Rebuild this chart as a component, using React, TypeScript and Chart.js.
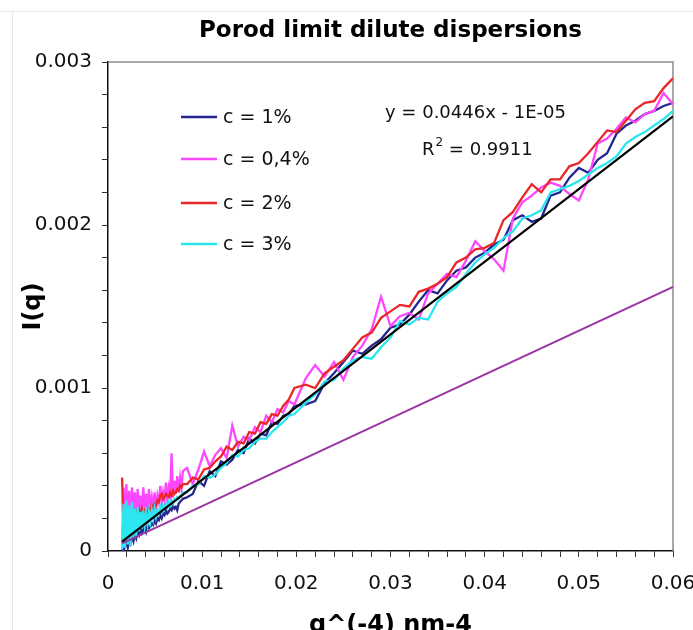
import React, { useEffect, useRef } from "react";
import { Chart, registerables } from "chart.js";

Chart.register(...registerables);

const TITLE = "Porod limit dilute dispersions";
const X_TITLE = "q^(-4) nm-4";
const Y_TITLE = "I(q)";
const SERIES_LABELS = ["c = 1%", "c = 0,4%", "c = 2%", "c = 3%"];
const SERIES_COLORS = ["#25258f", "#ff46ff", "#ea2626", "#2be6ee"];
const FIT_COLOR = "#000000";
const MODEL_COLOR = "#9b35a3";
const EQUATION = "y = 0.0446x - 1E-05";
const R2_VALUE = "0.9911";

const X_VALUES = [
  0.0015, 0.00165, 0.0018, 0.00195, 0.0021, 0.00225, 0.0024, 0.00255, 0.0027, 0.00285, 0.003,
  0.00315, 0.0033, 0.00345, 0.0036, 0.00375, 0.0039, 0.00405, 0.0042, 0.00435, 0.0045, 0.00465,
  0.0048, 0.00495, 0.0051, 0.00525, 0.0054, 0.00555, 0.0057, 0.00585, 0.006, 0.00615, 0.0063,
  0.00645, 0.0066, 0.00675, 0.0069, 0.00705, 0.0072, 0.00735, 0.0075, 0.00765, 0.0078, 0.00795,
  0.0084, 0.009, 0.0096, 0.0102, 0.0108, 0.0114, 0.012, 0.0126, 0.0132, 0.0138,
  0.0144, 0.015, 0.0156, 0.0162, 0.0168, 0.0174, 0.018, 0.0186, 0.0192, 0.0198,
  0.021, 0.022, 0.023, 0.024, 0.025, 0.026, 0.027, 0.028, 0.029, 0.03,
  0.031, 0.032, 0.033, 0.034, 0.035, 0.036, 0.037, 0.038, 0.039, 0.04,
  0.041, 0.042, 0.043, 0.044, 0.045, 0.046, 0.047, 0.048, 0.049, 0.05,
  0.051, 0.052, 0.053, 0.054, 0.055, 0.056, 0.057, 0.058, 0.059, 0.06,
];

// c = 1%
const C_1 = [
  0.00002, 0, 0.00003, 0.00006, 0.00002, 0.00008, 0.00005, 0.00009, 0.00006, 0.00011, 0.00008,
  0.00012, 0.0001, 0.00014, 0.00011, 0.00013, 0.00015, 0.00012, 0.00016, 0.00014, 0.00015, 0.00017,
  0.00016, 0.00019, 0.00017, 0.0002, 0.00019, 0.00022, 0.0002, 0.00023, 0.00022, 0.00025, 0.00023,
  0.00024, 0.00026, 0.00025, 0.00028, 0.00026, 0.00027, 0.00025, 0.00029, 0.0003, 0.00031, 0.00032,
  0.00033, 0.00035, 0.00043, 0.0004, 0.00049, 0.00046, 0.00055, 0.00053, 0.00056, 0.00062,
  0.0006, 0.00069, 0.00066, 0.00072, 0.00071, 0.00079, 0.00078, 0.00083, 0.00084, 0.00089,
  0.0009, 0.00092, 0.00103, 0.00109, 0.00116, 0.00123, 0.00121, 0.00126, 0.0013, 0.00137,
  0.00139, 0.00145, 0.00153, 0.0016, 0.00158, 0.00166, 0.00172, 0.00174, 0.0018, 0.00183,
  0.00188, 0.00191, 0.00203, 0.00206, 0.00202, 0.00204, 0.00218, 0.0022, 0.00229, 0.00235,
  0.00232, 0.0024, 0.00244, 0.00256, 0.00261, 0.00264, 0.00268, 0.0027, 0.00273, 0.00275,
];

// c = 0,4%
const C_04 = [
  0.00001, 0.00039, 0.00018, 0.00041, 0.0002, 0.00037, 0.00019, 0.00039, 0.00023, 0.00036, 0.00022,
  0.00038, 0.00025, 0.00034, 0.00024, 0.00039, 0.00026, 0.00035, 0.00025, 0.00038, 0.00027, 0.00033,
  0.00026, 0.00036, 0.00025, 0.00034, 0.0003, 0.0004, 0.00029, 0.00036, 0.00031, 0.00042, 0.00032,
  0.00039, 0.00034, 0.0006, 0.00033, 0.00043, 0.00035, 0.00046, 0.00036, 0.00045, 0.00038, 0.00049,
  0.00051, 0.00041, 0.0005, 0.00061, 0.00052, 0.00059, 0.00063, 0.00057, 0.00077, 0.00064,
  0.0007, 0.00068, 0.00076, 0.00073, 0.00083, 0.00079, 0.00087, 0.00085, 0.00092, 0.0009,
  0.00106, 0.00114, 0.00107, 0.00116, 0.00105, 0.00119, 0.00126, 0.00136, 0.00156, 0.00138,
  0.00144, 0.00146, 0.00142, 0.00158, 0.00164, 0.0017, 0.00168, 0.00178, 0.0019, 0.00184,
  0.00179, 0.00172, 0.00204, 0.00214, 0.00218, 0.00223, 0.00226, 0.00224, 0.00219, 0.00215,
  0.00228, 0.0025, 0.00253, 0.00259, 0.00266, 0.00263, 0.00268, 0.0027, 0.00281, 0.00274,
];

// c = 2%
const C_2 = [
  0.00045, 0.00009, 0.00013, 0.00021, 0.00012, 0.00019, 0.00016, 0.00022, 0.00018, 0.0002, 0.00024,
  0.00021, 0.00025, 0.00022, 0.00026, 0.00023, 0.00025, 0.00024, 0.00023, 0.00026, 0.00025, 0.00028,
  0.00026, 0.00029, 0.00028, 0.00031, 0.0003, 0.00034, 0.00035, 0.00032, 0.00033, 0.00035, 0.00034,
  0.00033, 0.00036, 0.00034, 0.00037, 0.00035, 0.00036, 0.00038, 0.00037, 0.0004, 0.00039, 0.00041,
  0.00041, 0.00045, 0.00044, 0.0005, 0.00051, 0.00055, 0.00058, 0.00064, 0.00062, 0.00067,
  0.00066, 0.00073, 0.00072, 0.00079, 0.00078, 0.00084, 0.00083, 0.00089, 0.00093, 0.001,
  0.00102, 0.001, 0.00109, 0.00113, 0.00117, 0.00124, 0.00131, 0.00134, 0.00143, 0.00147,
  0.00151, 0.0015, 0.00159, 0.00161, 0.00164, 0.00168, 0.00177, 0.0018, 0.00185, 0.00186,
  0.00189, 0.00203, 0.00208, 0.00217, 0.00225, 0.0022, 0.00228, 0.00228, 0.00236, 0.00238,
  0.00244, 0.00251, 0.00258, 0.00257, 0.00264, 0.00271, 0.00275, 0.00276, 0.00284, 0.0029,
];

// c = 3%
const C_3 = [
  0.00001, 0.00029, 0.00002, 0.00031, 0.00004, 0.00028, 0.00003, 0.0003, 0.00008, 0.00026, 0.00009,
  0.00027, 0.00012, 0.00024, 0.00014, 0.00025, 0.00016, 0.00023, 0.00017, 0.00024, 0.00018, 0.00025,
  0.0002, 0.00026, 0.00021, 0.00025, 0.00023, 0.00027, 0.00024, 0.00028, 0.00026, 0.00029, 0.00027,
  0.0003, 0.00028, 0.00031, 0.00029, 0.00032, 0.00031, 0.00033, 0.00032, 0.00034, 0.00034, 0.00036,
  0.00036, 0.0004, 0.00041, 0.00046, 0.00045, 0.00047, 0.00051, 0.00054, 0.00059, 0.00058,
  0.00062, 0.00063, 0.00067, 0.00069, 0.00069, 0.00073, 0.00076, 0.00079, 0.00083, 0.00084,
  0.00091, 0.00096, 0.00104, 0.00105, 0.00112, 0.00117, 0.00119, 0.00118, 0.00125, 0.00131,
  0.00141, 0.00139, 0.00143, 0.00142, 0.00153, 0.00158, 0.00162, 0.0017, 0.00177, 0.00182,
  0.00186, 0.00192, 0.00196, 0.00204, 0.00206, 0.00209, 0.0022, 0.00222, 0.00224, 0.00227,
  0.00231, 0.00235, 0.00238, 0.00242, 0.0025, 0.00254, 0.00257, 0.00261, 0.00265, 0.0027,
];

const SERIES_VALUES = [C_1, C_04, C_2, C_3];

// linear trend line (y = 0.0446x - 1E-05) end points
const FIT_X = [0.0015, 0.06];
const FIT_Y = [0.0000569, 0.002666];
// lower straight line end points
const MODEL_X = [0.0015, 0.06];
const MODEL_Y = [0.000047, 0.00162];

const X_MIN = 0;
const X_MAX = 0.06;
const X_STEP = 0.002;
const X_LABEL_STEP = 0.01;
const Y_MIN = 0;
const Y_MAX = 0.003;
const Y_STEP = 0.0002;
const Y_LABEL_STEP = 0.001;

const FONT = "DejaVu Sans";

function isMultiple(v: number, step: number) {
  const r = v / step;
  return Math.abs(r - Math.round(r)) < 1e-6;
}

function fmt(v: number, digits: number) {
  return String(+v.toFixed(digits));
}

const overlayPlugin = {
  id: "overlay",
  beforeDraw(chart: any) {
    const ctx = chart.ctx;
    ctx.save();
    ctx.strokeStyle = "#e8e8e8";
    ctx.lineWidth = 1;
    ctx.beginPath();
    ctx.moveTo(0, 11.5);
    ctx.lineTo(chart.width, 11.5);
    ctx.moveTo(12.5, 11.5);
    ctx.lineTo(12.5, chart.height);
    ctx.stroke();
    ctx.restore();
  },
  beforeDatasetsDraw(chart: any) {
    const { ctx, chartArea } = chart;
    ctx.save();
    ctx.strokeStyle = "#8c8c8c";
    ctx.lineWidth = 1.5;
    ctx.beginPath();
    ctx.moveTo(chartArea.left, chartArea.top);
    ctx.lineTo(chartArea.right, chartArea.top);
    ctx.lineTo(chartArea.right, chartArea.bottom);
    ctx.stroke();
    ctx.restore();
  },
  afterDraw(chart: any) {
    const ctx = chart.ctx;
    ctx.save();
    // legend
    const rows = [117, 159, 203, 244];
    ctx.font = `19px "${FONT}"`;
    ctx.textAlign = "left";
    ctx.textBaseline = "middle";
    for (let i = 0; i < SERIES_LABELS.length; i++) {
      const ds = chart.data.datasets[i];
      ctx.strokeStyle = ds.borderColor;
      ctx.lineWidth = 2.5;
      ctx.beginPath();
      ctx.moveTo(181, rows[i]);
      ctx.lineTo(217, rows[i]);
      ctx.stroke();
      ctx.fillStyle = "#111";
      ctx.fillText(ds.label, 223, rows[i] + 1);
    }
    // trend line equation
    ctx.fillStyle = "#111";
    ctx.font = `18px "${FONT}"`;
    ctx.fillText(EQUATION, 385, 113);
    const rx = 422;
    ctx.fillText("R", rx, 150);
    const wR = ctx.measureText("R").width;
    ctx.font = `12px "${FONT}"`;
    ctx.fillText("2", rx + wR + 1, 143);
    const w2 = ctx.measureText("2").width;
    ctx.font = `18px "${FONT}"`;
    ctx.fillText(" = " + R2_VALUE, rx + wR + 1 + w2, 150);
    ctx.restore();
  },
};

export default function App() {
  const ref = useRef<HTMLCanvasElement | null>(null);

  useEffect(() => {
    document.body.style.margin = "0";
    document.body.style.overflow = "hidden";
    document.documentElement.style.overflow = "hidden";
    const canvas = ref.current;
    if (!canvas) return;

    const seriesSets = SERIES_VALUES.map((vals, i) => ({
      label: SERIES_LABELS[i],
      data: X_VALUES.map((x, j) => ({ x, y: vals[j] })),
      borderColor: SERIES_COLORS[i],
      borderWidth: 2.3,
      pointRadius: 0,
      tension: 0,
      fill: false,
      order: 5 - i,
    }));

    const chart = new Chart(canvas, {
      type: "line",
      data: {
        datasets: [
          ...seriesSets,
          {
            label: "fit",
            data: FIT_X.map((x, j) => ({ x, y: FIT_Y[j] })),
            borderColor: FIT_COLOR,
            borderWidth: 2.2,
            pointRadius: 0,
            order: 0,
          },
          {
            label: "model",
            data: MODEL_X.map((x, j) => ({ x, y: MODEL_Y[j] })),
            borderColor: MODEL_COLOR,
            borderWidth: 2,
            pointRadius: 0,
            order: 1,
          },
        ] as any,
      },
      options: {
        animation: false,
        responsive: false,
        maintainAspectRatio: false,
        layout: { padding: { left: 0, right: 47, top: 0, bottom: 0 } },
        plugins: {
          legend: { display: false },
          tooltip: { enabled: false },
          title: {
            display: true,
            text: TITLE,
            fullSize: false,
            color: "#000",
            font: { family: FONT, size: 23, weight: "bold" },
            padding: { top: 17, bottom: 17.4 },
          },
        },
        scales: {
          x: {
            type: "linear",
            min: X_MIN,
            max: X_MAX,
            afterFit: (scale: any) => {
              scale.height = 109;
            },
            ticks: {
              stepSize: X_STEP,
              autoSkip: false,
              maxRotation: 0,
              minRotation: 0,
              padding: 15,
              color: "#111",
              font: { family: FONT, size: 20 },
              callback: (v: any) => (isMultiple(Number(v), X_LABEL_STEP) ? fmt(Number(v), 2) : ""),
            },
            grid: {
              drawOnChartArea: false,
              drawTicks: true,
              tickLength: 6,
              color: "#333",
            },
            border: { display: true, color: "#111", width: 1.5 },
            title: {
              display: true,
              text: X_TITLE,
              color: "#000",
              font: { family: FONT, size: 24, weight: "bold" },
              padding: { top: 0, bottom: 20 },
            },
          },
          y: {
            type: "linear",
            min: Y_MIN,
            max: Y_MAX,
            afterFit: (scale: any) => {
              scale.width = 108;
            },
            ticks: {
              stepSize: Y_STEP,
              autoSkip: false,
              padding: 10,
              color: "#111",
              font: { family: FONT, size: 20 },
              callback: (v: any) => (isMultiple(Number(v), Y_LABEL_STEP) ? fmt(Number(v), 3) : ""),
            },
            grid: {
              drawOnChartArea: false,
              drawTicks: true,
              tickLength: 6,
              color: "#333",
            },
            border: { display: true, color: "#111", width: 1.5 },
            title: {
              display: true,
              text: Y_TITLE,
              color: "#000",
              font: { family: FONT, size: 24, weight: "bold" },
              padding: { top: 19, bottom: 0 },
            },
          },
        },
      },
      plugins: [overlayPlugin],
    });

    return () => chart.destroy();
  }, []);

  return (
    <div style={{ width: 720, height: 660, position: "relative" }}>
      <canvas ref={ref} width={720} height={660} style={{ width: 720, height: 660, display: "block" }} />
    </div>
  );
}
